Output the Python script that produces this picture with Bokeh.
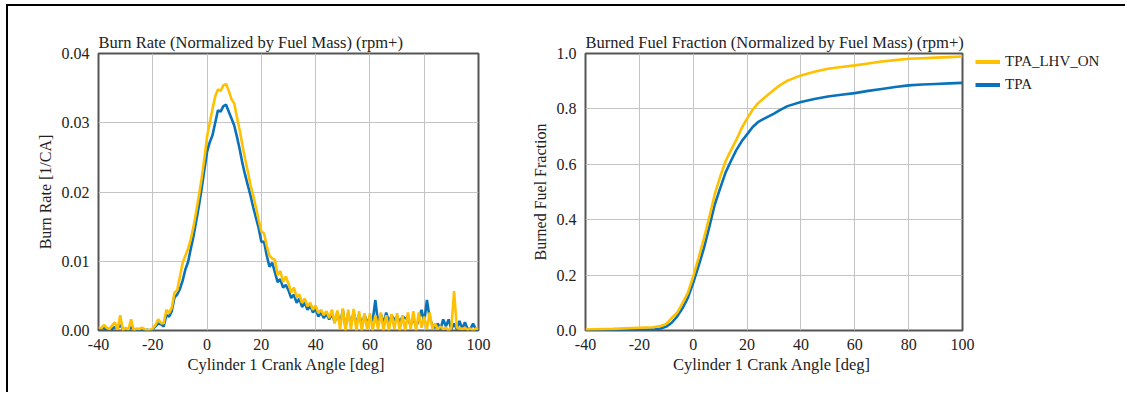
from bokeh.plotting import figure
from bokeh.models import Range1d, FixedTicker, PrintfTickFormatter, Legend, LegendItem
from bokeh.layouts import row
from bokeh.embed import file_html
from bokeh.resources import INLINE

# ---------------- data ----------------
burn_angle = list(range(-40, 101))
burn_lhv_on = [
    0.0005, 0.0003, 0.0008, 0.0004, 0.0002, 0.0007, 0.0012, 0.0001, 0.0022, 0.0000,
    0.0004, 0.0001, 0.0016, 0.0000, 0.0003, 0.0002, 0.0004, 0.0002, 0.0000, 0.0001,
    0.0003, 0.0008, 0.0016, 0.0011, 0.0010, 0.0030, 0.0025, 0.0033, 0.0055, 0.0058,
    0.0078, 0.0098, 0.0108, 0.0118, 0.0132, 0.0150, 0.0172, 0.0195, 0.0220, 0.0248,
    0.0280, 0.0300, 0.0320, 0.0338, 0.0348, 0.0346, 0.0354, 0.0356, 0.0346, 0.0334,
    0.0328, 0.0308, 0.0290, 0.0268, 0.0248, 0.0230, 0.0210, 0.0195, 0.0178, 0.0160,
    0.0143, 0.0140, 0.0122, 0.0108, 0.0104, 0.0102, 0.0080, 0.0086, 0.0070, 0.0078,
    0.0068, 0.0055, 0.0062, 0.0048, 0.0052, 0.0040, 0.0046, 0.0035, 0.0040, 0.0030,
    0.0036, 0.0025, 0.0030, 0.0022, 0.0028, 0.0018, 0.0030, 0.0010, 0.0029, 0.0002,
    0.0032, 0.0000, 0.0030, 0.0002, 0.0031, 0.0000, 0.0028, 0.0000, 0.0025, 0.0001,
    0.0025, 0.0000, 0.0022, 0.0002, 0.0026, 0.0000, 0.0022, 0.0000, 0.0024, 0.0002,
    0.0025, 0.0000, 0.0022, 0.0000, 0.0026, 0.0002, 0.0028, 0.0000, 0.0026, 0.0004,
    0.0020, 0.0002, 0.0026, 0.0003, 0.0010, 0.0002, 0.0006, 0.0002, 0.0004, 0.0000,
    0.0004, 0.0057, 0.0004, 0.0004, 0.0002, 0.0004, 0.0001, 0.0003, 0.0000, 0.0003,
    0.0002,
]
burn_tpa = [
    0.0000, 0.0002, 0.0004, 0.0000, 0.0003, 0.0002, 0.0005, 0.0003, 0.0008, 0.0002,
    0.0003, 0.0001, 0.0005, 0.0002, 0.0001, 0.0001, 0.0002, 0.0000, 0.0001, 0.0000,
    0.0002, 0.0006, 0.0010, 0.0009, 0.0006, 0.0022, 0.0020, 0.0028, 0.0048, 0.0052,
    0.0060, 0.0072, 0.0088, 0.0099, 0.0118, 0.0136, 0.0158, 0.0180, 0.0205, 0.0232,
    0.0258, 0.0272, 0.0282, 0.0300, 0.0318, 0.0316, 0.0324, 0.0326, 0.0316, 0.0306,
    0.0296, 0.0280, 0.0262, 0.0242, 0.0225, 0.0210, 0.0195, 0.0178, 0.0163, 0.0148,
    0.0128, 0.0128, 0.0108, 0.0092, 0.0098, 0.0084, 0.0070, 0.0074, 0.0062, 0.0066,
    0.0058, 0.0047, 0.0052, 0.0040, 0.0046, 0.0034, 0.0040, 0.0030, 0.0036, 0.0026,
    0.0031, 0.0020, 0.0026, 0.0018, 0.0024, 0.0016, 0.0024, 0.0012, 0.0026, 0.0008,
    0.0030, 0.0005, 0.0025, 0.0008, 0.0026, 0.0010, 0.0023, 0.0008, 0.0022, 0.0012,
    0.0018, 0.0014, 0.0044, 0.0010, 0.0024, 0.0010, 0.0026, 0.0012, 0.0022, 0.0015,
    0.0020, 0.0012, 0.0020, 0.0018, 0.0016, 0.0008, 0.0018, 0.0006, 0.0015, 0.0030,
    0.0012, 0.0044, 0.0018, 0.0008, 0.0004, 0.0010, 0.0002, 0.0016, 0.0006, 0.0016,
    0.0002, 0.0010, 0.0002, 0.0014, 0.0002, 0.0012, 0.0002, 0.0002, 0.0010, 0.0002,
    0.0000,
]

frac_angle = [-40, -30, -20, -15, -12, -10, -8, -6, -4, -2, 0, 2, 4, 6, 8, 10, 12, 14, 16, 18,
              20, 22, 24, 26, 28, 30, 32, 35, 40, 45, 50, 55, 60, 65, 70, 75, 80, 85, 90, 95, 100]
frac_lhv_on = [0.003, 0.006, 0.010, 0.012, 0.016, 0.024, 0.045, 0.064, 0.098, 0.136, 0.195,
               0.262, 0.333, 0.410, 0.492, 0.555, 0.611, 0.650, 0.688, 0.731, 0.765, 0.796,
               0.820, 0.837, 0.853, 0.869, 0.884, 0.902, 0.921, 0.934, 0.945, 0.951, 0.957,
               0.964, 0.971, 0.976, 0.981, 0.983, 0.985, 0.987, 0.989]
frac_tpa = [0.000, 0.001, 0.002, 0.003, 0.007, 0.014, 0.028, 0.050, 0.080, 0.118, 0.172,
            0.233, 0.298, 0.375, 0.455, 0.513, 0.570, 0.612, 0.651, 0.683, 0.708, 0.734,
            0.752, 0.763, 0.773, 0.783, 0.795, 0.810, 0.825, 0.836, 0.845, 0.851, 0.857,
            0.865, 0.872, 0.879, 0.885, 0.888, 0.890, 0.892, 0.894]

x_ticks = [-40, -20, 0, 20, 40, 60, 80, 100]
burn_ticks = [0.0, 0.01, 0.02, 0.03, 0.04]
frac_ticks = [0.0, 0.2, 0.4, 0.6, 0.8, 1.0]

series_names = ["TPA_LHV_ON", "TPA"]

# ---------------- style ----------------
FONT = "Liberation Serif"
TXT = "#222222"
YELLOW = "#FFC000"
BLUE = "#0A72BA"
LW = 2.6
H = 386
TOP = 47
FH = 277


def style(p, yfmt, yticks, ylabel):
    p.outline_line_color = "#555555"
    p.outline_line_width = 2
    p.background_fill_color = "white"
    p.border_fill_color = "white"
    p.title.text_font = FONT
    p.title.text_font_style = "normal"
    p.title.text_font_size = "16.5px"
    p.title.text_color = TXT
    p.title.align = "left"
    p.title.standoff = 3
    for ax in (p.xaxis[0], p.yaxis[0]):
        ax.axis_line_color = None
        ax.major_tick_line_color = None
        ax.minor_tick_line_color = None
        ax.major_label_text_font = FONT
        ax.major_label_text_font_size = "16px"
        ax.major_label_text_color = TXT
        ax.axis_label_text_font = FONT
        ax.axis_label_text_font_style = "normal"
        ax.axis_label_text_color = TXT
    p.xaxis.ticker = FixedTicker(ticks=x_ticks)
    p.xaxis.formatter = PrintfTickFormatter(format="%d")
    p.xaxis.axis_label = "Cylinder  1 Crank Angle [deg]"
    p.xaxis.axis_label_text_font_size = "16.5px"
    p.xaxis.major_label_standoff = 2
    p.xaxis.axis_label_standoff = 2
    p.yaxis.ticker = FixedTicker(ticks=yticks)
    p.yaxis.formatter = PrintfTickFormatter(format=yfmt)
    p.yaxis.axis_label = ylabel
    p.yaxis.axis_label_text_font_size = "16px"
    p.yaxis.major_label_standoff = 3
    p.yaxis.axis_label_standoff = 5
    p.xgrid.ticker = FixedTicker(ticks=x_ticks)
    p.ygrid.ticker = FixedTicker(ticks=yticks)
    p.grid.grid_line_color = "#c4c4c4"
    p.grid.grid_line_width = 1


p1 = figure(width=520, height=H, x_range=Range1d(-40, 100), y_range=Range1d(0, 0.04),
            output_backend="svg", toolbar_location=None,
            title="Burn Rate (Normalized by Fuel Mass) (rpm+)",
            min_border_left=90, min_border_right=50, min_border_top=TOP,
            min_border_bottom=H - TOP - FH)
style(p1, "%.2f", burn_ticks, "Burn Rate [1/CA]")
p1.line(burn_angle, burn_tpa, line_color=BLUE, line_width=LW)
p1.line(burn_angle, burn_lhv_on, line_color=YELLOW, line_width=LW)

p2 = figure(width=447, height=H, x_range=Range1d(-40, 100), y_range=Range1d(0, 1.0),
            output_backend="svg", toolbar_location=None,
            title="Burned Fuel Fraction (Normalized by Fuel Mass) (rpm+)",
            min_border_left=52, min_border_right=13, min_border_top=TOP,
            min_border_bottom=H - TOP - FH)
style(p2, "%.1f", frac_ticks, "Burned Fuel Fraction")
p2.line(frac_angle, frac_tpa, line_color=BLUE, line_width=LW)
p2.line(frac_angle, frac_lhv_on, line_color=YELLOW, line_width=LW)

# legend panel to the right of the second chart; its key lines plot the same series
# but in a range window where nothing of them is visible, so only the legend shows
p3 = figure(width=150, height=H, output_backend="svg", toolbar_location=None,
            x_range=Range1d(1000, 1001), y_range=Range1d(1000, 1001),
            x_axis_location=None, y_axis_location=None,
            min_border=0, min_border_left=0, min_border_right=0,
            min_border_top=45, min_border_bottom=0)
p3.outline_line_color = None
p3.grid.visible = False
p3.background_fill_color = "white"
p3.border_fill_color = "white"
k_lhv = p3.line(frac_angle, frac_lhv_on, line_color=YELLOW, line_width=4)
k_tpa = p3.line(frac_angle, frac_tpa, line_color=BLUE, line_width=4)

legend = Legend(items=[LegendItem(label=series_names[0], renderers=[k_lhv]),
                       LegendItem(label=series_names[1], renderers=[k_tpa])],
                location="top_left")
legend.glyph_width = 25
legend.glyph_height = 17
legend.label_height = 17
legend.spacing = 6
legend.padding = 0
legend.margin = 0
legend.border_line_color = None
legend.background_fill_alpha = 0
legend.label_text_font = FONT
legend.label_text_font_size = "15px"
legend.label_text_color = TXT
legend.label_standoff = 5
p3.add_layout(legend)

layout = row(p1, p2, p3, styles={"border-top": "2px solid black", "border-left": "2px solid black",
                                 "margin-top": "4px", "margin-left": "6px"})

open("out.html", "w").write(file_html(layout, INLINE))
